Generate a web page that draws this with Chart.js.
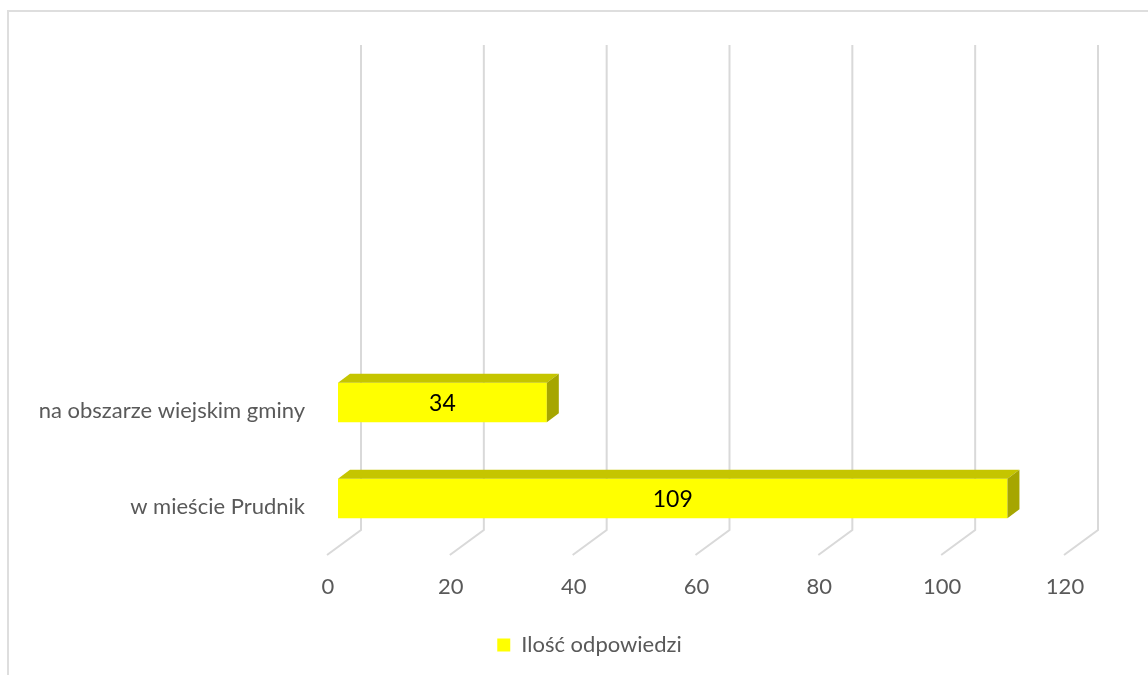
<!DOCTYPE html>
<html>
<head>
<meta charset="utf-8">
<script src="https://cdn.jsdelivr.net/npm/chart.js@4.4.0/dist/chart.umd.min.js"></script>
<style>
  html, body { margin: 0; padding: 0; background: #fff; }
  #wrap { width: 1148px; height: 675px; position: relative; }
</style>
</head>
<body>
<div id="wrap"><canvas id="chart" width="1148" height="675"></canvas></div>
<script>
// categories from bottom to top, the empty ones keep the upper rows free
const categories = ["w mieście Prudnik", "na obszarze wiejskim gminy", "", "", ""]
const answers = [109, 34, null, null, null]
const seriesName = "Ilość odpowiedzi"
const xTicks = [0, 20, 40, 60, 80, 100, 120]

const textColor = "#595959"
const gridColor = "#d9d9d9"
const fontFamily = "Lato, 'Open Sans', sans-serif"

// depth of the bars and of the floor (oblique projection)
const barDepth = { dx: 12, dy: 9 }

const frame = {
    id: "frame",
    beforeDraw(chart) {
        const ctx = chart.ctx
        ctx.save()
        ctx.fillStyle = "#fff"
        ctx.fillRect(0, 0, chart.width, chart.height)
        ctx.strokeStyle = "#dedede"
        ctx.lineWidth = 2
        ctx.strokeRect(8, 11, chart.width + 20, chart.height + 20)
        ctx.restore()
    }
}

// legend sits a bit right of the chart centre
const legendShift = {
    id: "legendShift",
    afterLayout(chart) {
        const lg = chart.legend
        if (!lg) return
        lg.left += 52
        lg.right += 52
    }
}

// back wall lines + floor diagonals
const wallGrid = {
    id: "wallGrid",
    beforeDatasetsDraw(chart) {
        const { ctx, chartArea, scales: { x } } = chart
        ctx.save()
        ctx.strokeStyle = gridColor
        ctx.lineWidth = 2
        xTicks.forEach(v => {
            const bx = x.getPixelForValue(v) + 23
            ctx.beginPath()
            ctx.moveTo(bx, chartArea.top - 21.5)
            ctx.lineTo(bx, chartArea.bottom - 16.5)
            ctx.lineTo(bx - 34, chartArea.bottom + 8.5)
            ctx.stroke()
        })
        ctx.restore()
    }
}

// top and side faces of the bars, and the value labels
const bars3d = {
    id: "bars3d",
    afterDatasetsDraw(chart) {
        const ctx = chart.ctx
        const meta = chart.getDatasetMeta(0)
        ctx.save()
        meta.data.forEach((bar, i) => {
            const v = answers[i]
            if (v == null) return
            const { x, y, base, height } = bar.getProps(["x", "y", "base", "height"], true)
            const top = y - height / 2
            const bottom = y + height / 2
            const { dx, dy } = barDepth

            ctx.fillStyle = "#c5c500"
            ctx.beginPath()
            ctx.moveTo(base, top)
            ctx.lineTo(x, top)
            ctx.lineTo(x + dx, top - dy)
            ctx.lineTo(base + dx, top - dy)
            ctx.closePath()
            ctx.fill()

            ctx.fillStyle = "#a6a600"
            ctx.beginPath()
            ctx.moveTo(x, top)
            ctx.lineTo(x + dx, top - dy)
            ctx.lineTo(x + dx, bottom - dy)
            ctx.lineTo(x, bottom)
            ctx.closePath()
            ctx.fill()

            ctx.fillStyle = "#000"
            ctx.font = "23px " + fontFamily
            ctx.textAlign = "center"
            ctx.textBaseline = "middle"
            ctx.fillText(String(v), (base + x) / 2, y + 1.5)
        })
        ctx.restore()
    }
}

new Chart(document.getElementById("chart"), {
    type: "bar",
    data: {
        labels: categories,
        datasets: [{
            label: seriesName,
            data: answers,
            backgroundColor: "#ffff00",
            borderWidth: 0,
            categoryPercentage: 1,
            barPercentage: 0.41
        }]
    },
    options: {
        indexAxis: "y",
        responsive: false,
        animation: false,
        layout: { padding: { top: 66.5, right: 73, bottom: 9, left: 0 } },
        scales: {
            x: {
                min: 0,
                max: 120,
                afterBuildTicks: scale => { scale.ticks = xTicks.map(v => ({ value: v })) },
                afterFit: scale => { scale.height = 77.5 },
                grid: { display: false, drawTicks: false },
                border: { display: false },
                ticks: {
                    color: textColor,
                    font: { family: fontFamily, size: 22 },
                    padding: 27,
                    labelOffset: -10,
                    maxRotation: 0
                }
            },
            y: {
                reverse: true,
                afterFit: scale => { scale.width = 338 },
                grid: { display: false, drawTicks: false },
                border: { display: false },
                ticks: {
                    color: textColor,
                    font: { family: fontFamily, size: 22 },
                    padding: 33,
                    labelOffset: 8
                }
            }
        },
        plugins: {
            legend: {
                position: "bottom",
                labels: {
                    color: textColor,
                    font: { family: fontFamily, size: 22 },
                    boxWidth: 13,
                    boxHeight: 13,
                    padding: 10
                }
            },
            tooltip: { enabled: false }
        }
    },
    plugins: [frame, legendShift, wallGrid, bars3d]
});
</script>
</body>
</html>
